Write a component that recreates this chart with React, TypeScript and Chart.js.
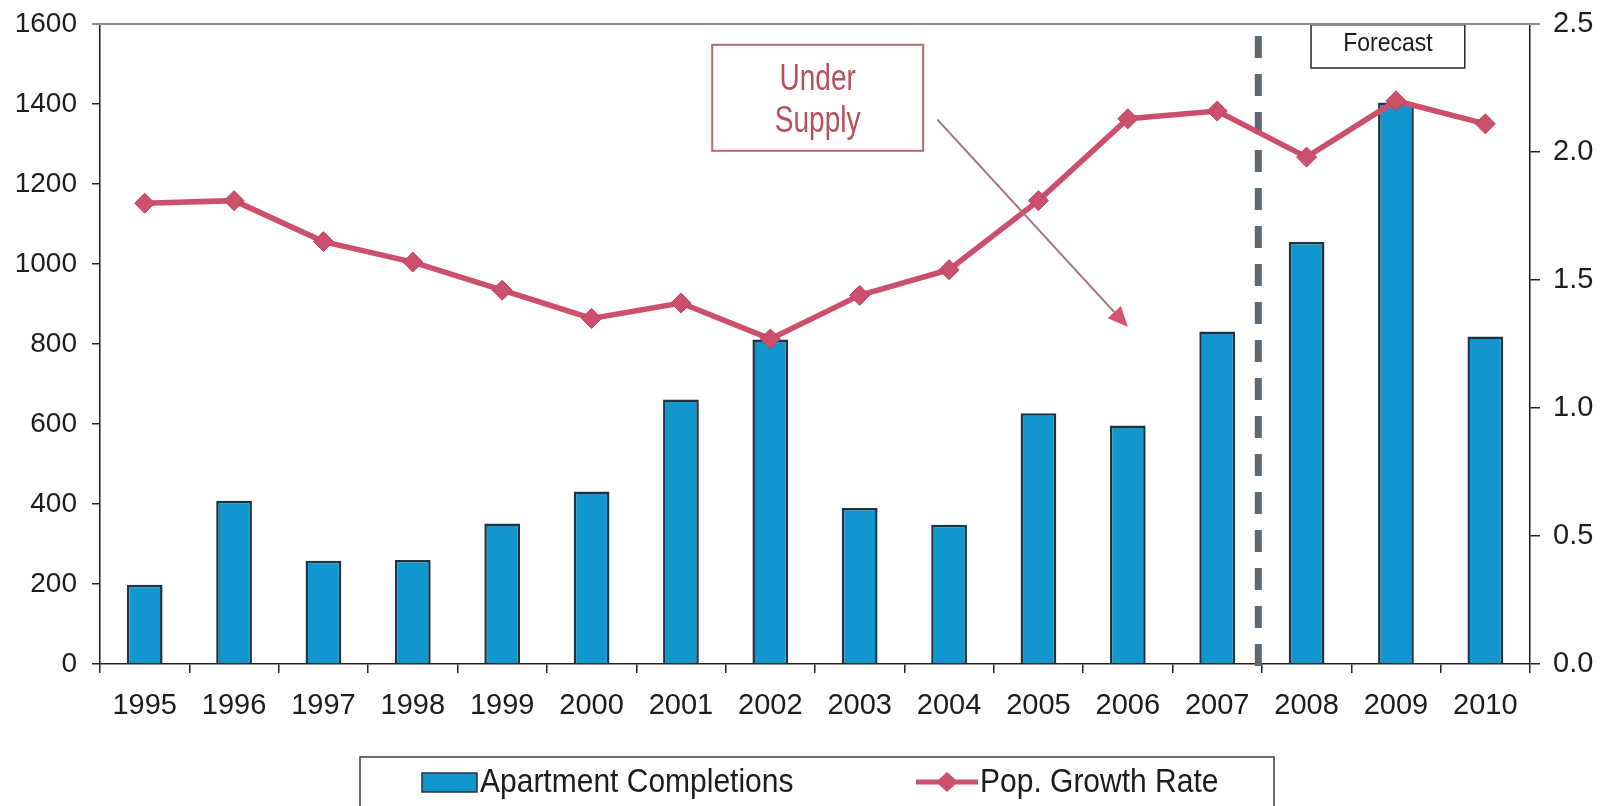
import React, { useEffect, useRef } from 'react';
import { Chart, registerables } from 'chart.js';

Chart.register(...registerables);

const FONT = '"Liberation Sans", Arial, Helvetica, sans-serif';

const years = ['1995', '1996', '1997', '1998', '1999', '2000', '2001', '2002', '2003', '2004', '2005', '2006', '2007', '2008', '2009', '2010'];
const completions = [198, 408, 258, 260, 351, 431, 661, 811, 390, 348, 627, 596, 831, 1055, 1404, 819];
const growthRate = [1.8, 1.81, 1.65, 1.57, 1.46, 1.35, 1.41, 1.27, 1.44, 1.54, 1.81, 2.13, 2.16, 1.98, 2.2, 2.11];
const leftAxis = { min: 0, max: 1600, step: 200 };
const rightAxis = { min: 0, max: 2.5, step: 0.5 };
const seriesLabels = ['Apartment Completions', 'Pop. Growth Rate'];
const forecastLabel = 'Forecast';
const calloutLines = ['Under', 'Supply'];
const forecastBoundary = 12.46; // between 2007 and 2008 (category index)

const BAR_FILL = '#1196cd';
const BAR_EDGE = '#1f3442';
const LINE_COL = '#cc4f6c';
const TEXT_COL = '#1c1c1c';

function stretchedText(ctx: any, text: string, x: number, y: number, sy: number) {
  ctx.save();
  ctx.translate(x, y);
  ctx.scale(1, sy);
  ctx.fillText(text, 0, 0);
  ctx.restore();
}

const annotations = {
  id: 'annotations',
  beforeDatasetsDraw(chart: any) {
    const { ctx, chartArea, scales } = chart;
    const x = scales.x;
    const xp = x.getPixelForValue(forecastBoundary);
    ctx.save();
    ctx.strokeStyle = '#5c6872';
    ctx.lineWidth = 7;
    ctx.setLineDash([22, 16]);
    ctx.beginPath();
    ctx.moveTo(xp, chartArea.top + 12);
    ctx.lineTo(xp, chartArea.bottom + 2);
    ctx.stroke();
    ctx.restore();
  },
  afterDatasetsDraw(chart: any) {
    const { ctx, scales } = chart;
    const x = scales.x;
    const y = scales.y;
    ctx.save();
    // Forecast box
    const fx0 = x.getPixelForValue(13.05);
    const fx1 = x.getPixelForValue(14.77);
    const fy0 = y.getPixelForValue(1598);
    const fy1 = y.getPixelForValue(1490);
    ctx.fillStyle = '#ffffff';
    ctx.fillRect(fx0, fy0, fx1 - fx0, fy1 - fy0);
    ctx.strokeStyle = '#2a2a2a';
    ctx.lineWidth = 1.5;
    ctx.strokeRect(fx0, fy0, fx1 - fx0, fy1 - fy0);
    ctx.fillStyle = TEXT_COL;
    ctx.font = `23px ${FONT}`;
    ctx.textAlign = 'center';
    ctx.textBaseline = 'middle';
    stretchedText(ctx, forecastLabel, (fx0 + fx1) / 2, (fy0 + fy1) / 2 - 2, 1.1);

    // Under Supply box
    const ux0 = x.getPixelForValue(6.35);
    const ux1 = x.getPixelForValue(8.71);
    const uy0 = y.getPixelForValue(1548);
    const uy1 = y.getPixelForValue(1283);
    ctx.strokeStyle = '#b8676f';
    ctx.lineWidth = 2;
    ctx.strokeRect(ux0, uy0, ux1 - ux0, uy1 - uy0);
    ctx.fillStyle = '#b4525c';
    ctx.font = `28px ${FONT}`;
    const cx = (ux0 + ux1) / 2;
    stretchedText(ctx, calloutLines[0], cx, y.getPixelForValue(1460), 1.3);
    stretchedText(ctx, calloutLines[1], cx, y.getPixelForValue(1356), 1.3);

    // Arrow
    const ax0 = x.getPixelForValue(8.87);
    const ay0 = y.getPixelForValue(1361);
    const ax1 = x.getPixelForValue(11.0);
    const ay1 = y.getPixelForValue(843);
    const ang = Math.atan2(ay1 - ay0, ax1 - ax0);
    const hl = 20;
    const hw = 9;
    const bx = ax1 - hl * Math.cos(ang);
    const by = ay1 - hl * Math.sin(ang);
    ctx.strokeStyle = '#a27478';
    ctx.lineWidth = 2;
    ctx.beginPath();
    ctx.moveTo(ax0, ay0);
    ctx.lineTo(bx, by);
    ctx.stroke();
    ctx.fillStyle = '#d4566e';
    ctx.beginPath();
    ctx.moveTo(ax1, ay1);
    ctx.lineTo(bx + hw * Math.sin(ang), by - hw * Math.cos(ang));
    ctx.lineTo(bx - hw * Math.sin(ang), by + hw * Math.cos(ang));
    ctx.closePath();
    ctx.fill();
    ctx.restore();
  },
  afterDraw(chart: any) {
    const { ctx, chartArea } = chart;
    ctx.save();
    // top frame line
    ctx.strokeStyle = '#8c8c8c';
    ctx.lineWidth = 2;
    ctx.beginPath();
    ctx.moveTo(chartArea.left - 8, chartArea.top);
    ctx.lineTo(chartArea.right + 10, chartArea.top);
    ctx.stroke();

    // legend box
    const lx0 = 360;
    const lx1 = 1274;
    const ly0 = 757;
    ctx.strokeStyle = '#3a3a3a';
    ctx.lineWidth = 1.5;
    ctx.strokeRect(lx0, ly0, lx1 - lx0, 80);
    const cy = 783;
    // bar swatch
    ctx.fillStyle = BAR_FILL;
    ctx.fillRect(422, cy - 10, 55, 19);
    ctx.strokeStyle = BAR_EDGE;
    ctx.lineWidth = 1.5;
    ctx.strokeRect(422, cy - 10, 55, 19);
    ctx.fillStyle = TEXT_COL;
    ctx.font = `30px ${FONT}`;
    ctx.textAlign = 'left';
    ctx.textBaseline = 'middle';
    stretchedText(ctx, chart.data.datasets[0].label, 480, cy, 1.12);
    // line swatch
    ctx.strokeStyle = LINE_COL;
    ctx.lineWidth = 5;
    ctx.beginPath();
    ctx.moveTo(916, cy - 1);
    ctx.lineTo(978, cy - 1);
    ctx.stroke();
    ctx.fillStyle = LINE_COL;
    ctx.beginPath();
    ctx.moveTo(947, cy - 11);
    ctx.lineTo(958, cy - 1);
    ctx.lineTo(947, cy + 9);
    ctx.lineTo(936, cy - 1);
    ctx.closePath();
    ctx.fill();
    ctx.fillStyle = TEXT_COL;
    stretchedText(ctx, chart.data.datasets[1].label, 980, cy, 1.12);
    ctx.restore();
  },
};

export default function App() {
  const ref = useRef<HTMLCanvasElement | null>(null);

  useEffect(() => {
    if (!ref.current) return;
    const chart = new Chart(ref.current, {
      type: 'bar',
      data: {
        labels: years,
        datasets: [
          {
            type: 'bar',
            label: seriesLabels[0],
            data: completions,
            backgroundColor: BAR_FILL,
            borderColor: BAR_EDGE,
            borderWidth: 2.5,
            borderSkipped: 'bottom',
            barPercentage: 0.4,
            categoryPercentage: 1,
            yAxisID: 'y',
            order: 2,
          },
          {
            type: 'line',
            label: seriesLabels[1],
            data: growthRate,
            borderColor: LINE_COL,
            backgroundColor: LINE_COL,
            borderWidth: 5.5,
            pointStyle: 'rectRot',
            pointRadius: 10,
            pointBorderColor: '#b8405c',
            pointBorderWidth: 1,
            pointBackgroundColor: LINE_COL,
            tension: 0,
            yAxisID: 'y1',
            order: 1,
          },
        ],
      } as any,
      options: {
        responsive: true,
        maintainAspectRatio: false,
        animation: false,
        layout: { padding: { top: 24, left: 0, right: 0, bottom: 0 } },
        plugins: {
          legend: { display: false },
          tooltip: { enabled: false },
        },
        scales: {
          x: {
            grid: {
              display: true,
              offset: true,
              drawOnChartArea: false,
              drawTicks: true,
              tickLength: 9,
              color: '#222',
              lineWidth: 1.5,
            },
            border: { display: true, color: '#222', width: 1.5 },
            ticks: {
              color: TEXT_COL,
              font: { family: FONT, size: 29 },
              padding: 16,
              maxRotation: 0,
              autoSkip: false,
            },
            afterFit: (s: any) => {
              s.height = 142;
              s.paddingLeft = 0;
              s.paddingRight = 0;
            },
          },
          y: {
            position: 'left',
            min: leftAxis.min,
            max: leftAxis.max,
            grid: { drawOnChartArea: false, drawTicks: true, tickLength: 8, color: '#222', lineWidth: 1.5 },
            border: { display: true, color: '#1a1a1a', width: 1.5 },
            ticks: {
              stepSize: leftAxis.step,
              color: TEXT_COL,
              font: { family: FONT, size: 28 },
              padding: 15,
              callback: (v: any) => String(v),
            },
            afterFit: (s: any) => {
              s.width = 100;
              s.paddingTop = 0;
              s.paddingBottom = 0;
            },
          },
          y1: {
            position: 'right',
            min: rightAxis.min,
            max: rightAxis.max,
            grid: { drawOnChartArea: false, drawTicks: true, tickLength: 10, color: '#222', lineWidth: 1.5 },
            border: { display: true, color: '#1a1a1a', width: 1.5 },
            ticks: {
              stepSize: rightAxis.step,
              color: TEXT_COL,
              font: { family: FONT, size: 29 },
              padding: 13,
              callback: (v: any) => Number(v).toFixed(1),
            },
            afterFit: (s: any) => {
              s.width = 75;
              s.paddingTop = 0;
              s.paddingBottom = 0;
            },
          },
        },
      } as any,
      plugins: [annotations],
    });
    return () => chart.destroy();
  }, []);

  return (
    <div style={{ position: 'fixed', left: 0, top: 0, width: '1605px', height: '806px', background: '#fff' }}>
      <canvas ref={ref} />
    </div>
  );
}
